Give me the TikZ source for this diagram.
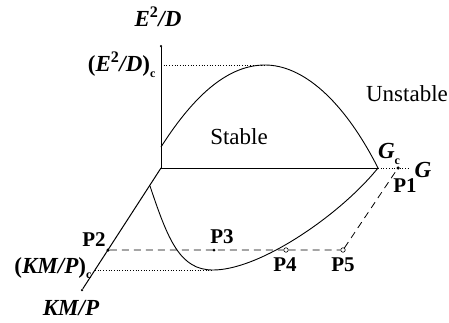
\documentclass[tikz,border=0pt]{standalone}
\usepackage{fontspec}
\setmainfont{Liberation Serif}
\newcommand{\bi}[1]{{\bfseries\itshape #1}}
\newcommand{\subc}{\raisebox{-0.25em}{\fontsize{12}{12}\selectfont\bfseries c}}
\begin{document}
\begin{tikzpicture}[x=1pt,y=-1pt,
  axis/.style={line width=1pt},
  curve/.style={line width=0.9pt},
  dashln/.style={dash pattern=on 7pt off 5pt,line width=0.8pt},
  dots/.style={dotted,line width=0.7pt},
  lab/.style={font=\fontsize{21}{21}\selectfont\bfseries},
  txt/.style={font=\fontsize{23}{23}\selectfont},
  fdot/.style={circle,fill=black,inner sep=0pt,minimum size=3.5pt},
  odot/.style={circle,draw=black,fill=white,line width=0.6pt,inner sep=0pt,minimum size=4.5pt}]
\useasboundingbox (0,0) rectangle (449,322);
% axes
\coordinate (O) at (161,168);
\node[fdot,minimum size=2.5pt] (Etop) at (161,46) {};
\node[fdot,minimum size=2.5pt] (Kend) at (82,290) {};
\coordinate (Gc) at (378,168);
\coordinate (Gend) at (410,168);
\draw[axis] (O) -- (Etop);
\draw[axis] (O) -- (Kend);
\draw[line width=0.8pt] (O) -- (Gc);
\draw[dots] (Gc) -- (Gend);
% points
\node[fdot] (P1) at (398,168) {};
\node[fdot] (P2) at (108,250) {};
\node[fdot,minimum size=3pt] (P3) at (214,250) {};
\node[odot] (P4) at (286,250) {};
\node[odot] (P5) at (343,250) {};
\draw[dashln] (P2) -- (P4) -- (P5) -- (P1);
% critical dotted lines
\coordinate (EDc) at (161,65);
\coordinate (peak) at (265,65);
\coordinate (KMc) at (95,270);
\coordinate (bot) at (213,270);
\draw[dots] (EDc) -- (peak);
\draw[dots] (KMc) -- (bot);
% upper curve
\coordinate (ustart) at (161,147);
\draw[curve] (ustart) .. controls (196,92) and (230,65) .. (peak)
  .. controls (302,65) and (343,99) .. (Gc);
% lower curve
\coordinate (lstart) at (150,186);
\draw[curve] (lstart) .. controls (168,240) and (180,270) .. (bot)
  .. controls (260,270) and (340,215) .. (Gc);
% labels
\node[txt] (tE) at (158,17) {\bi{E}\textsuperscript{\bfseries 2}\bi{/D}};
\node[txt,anchor=east] (tEc) at (159,65) {\textbf{(}\bi{E}\textsuperscript{\bfseries 2}\bi{/D}\textbf{)}\subc};
\node[txt] (tS) at (239,137) {Stable};
\node[txt] (tU) at (407,94) {Unstable};
\node[txt] (tGc) at (389,154) {\bi{G}\subc};
\node[txt] (tG) at (423,170) {\bi{G}};
\node[lab] (l1) at (405,186) {P1};
\node[lab] (l2) at (94,240) {P2};
\node[lab] (l3) at (222,237) {P3};
\node[lab] (l4) at (285,265) {P4};
\node[lab] (l5) at (343,265) {P5};
\node[txt,anchor=east] (tKc) at (95,268) {\textbf{(}\bi{KM/P}\textbf{)}\subc};
\node[txt] (tK) at (71,308) {\bi{KM/P}};
\end{tikzpicture}
\end{document}
